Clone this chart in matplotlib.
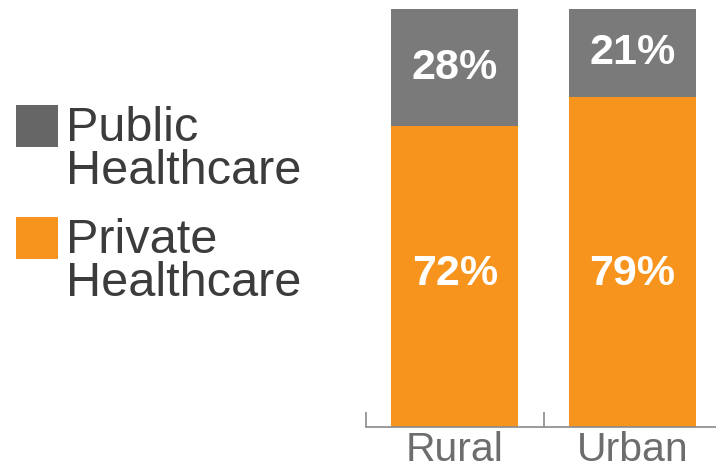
import matplotlib.pyplot as plt
from matplotlib.patches import Rectangle

# Share of healthcare use by setting (%)
areas = ['Rural', 'Urban']
private = [72, 79]
public = [28, 21]

orange = '#f7941d'
grey = '#7a7a7a'
legend_grey = '#666666'
text_dark = '#3c3c3c'

plt.rcParams['font.family'] = ['Liberation Sans', 'DejaVu Sans']

W, H = 716, 468
fig = plt.figure(figsize=(W / 100, H / 100), dpi=100)
ax = fig.add_axes([366 / W, 41 / H, (716 - 366) / W, 418 / H])

x = range(len(areas))
ax.bar(x, private, width=0.715, color=orange, linewidth=0)
ax.bar(x, public, width=0.715, bottom=private, color=grey, linewidth=0)

for i in x:
    ax.text(i, 36.5, f'{private[i]}%', ha='center', va='center',
            color='white', fontsize=31, fontweight='bold')
    ax.text(i, private[i] + public[i] / 2, f'{public[i]}%', ha='center',
            va='center', color='white', fontsize=31, fontweight='bold')

ax.set_xlim(-0.5, 1.47)
ax.set_ylim(0, 100)
for s in ['top', 'right', 'left']:
    ax.spines[s].set_visible(False)
ax.spines['bottom'].set_color('#8a8a8a')
ax.spines['bottom'].set_linewidth(1.2)
ax.set_yticks([])
# boundary ticks between groups, labels sit on minor ticks at bar centers
ax.set_xticks([-0.5, 0.5])
ax.set_xticklabels([])
ax.tick_params(axis='x', which='major', direction='in', length=11,
               width=1.2, color='#8a8a8a')
ax.set_xticks(list(x), minor=True)
ax.set_xticklabels(areas, minor=True)
ax.tick_params(axis='x', which='minor', length=0, pad=3,
               labelsize=29.5, labelcolor='#6d6d6d')

# legend drawn by hand: square next to the first line of each label
entries = [('Public\nHealthcare', legend_grey, 105),
           ('Private\nHealthcare', orange, 217)]
for label, color, top in entries:
    fig.add_artist(Rectangle((16 / W, (H - top - 42) / H), 42 / W, 42 / H,
                             transform=fig.transFigure, color=color, lw=0))
    fig.text(66 / W, (H - top - 1) / H, label, ha='left', va='top',
             fontsize=35, color=text_dark, linespacing=0.95)

fig.savefig('out.png', dpi=100)
